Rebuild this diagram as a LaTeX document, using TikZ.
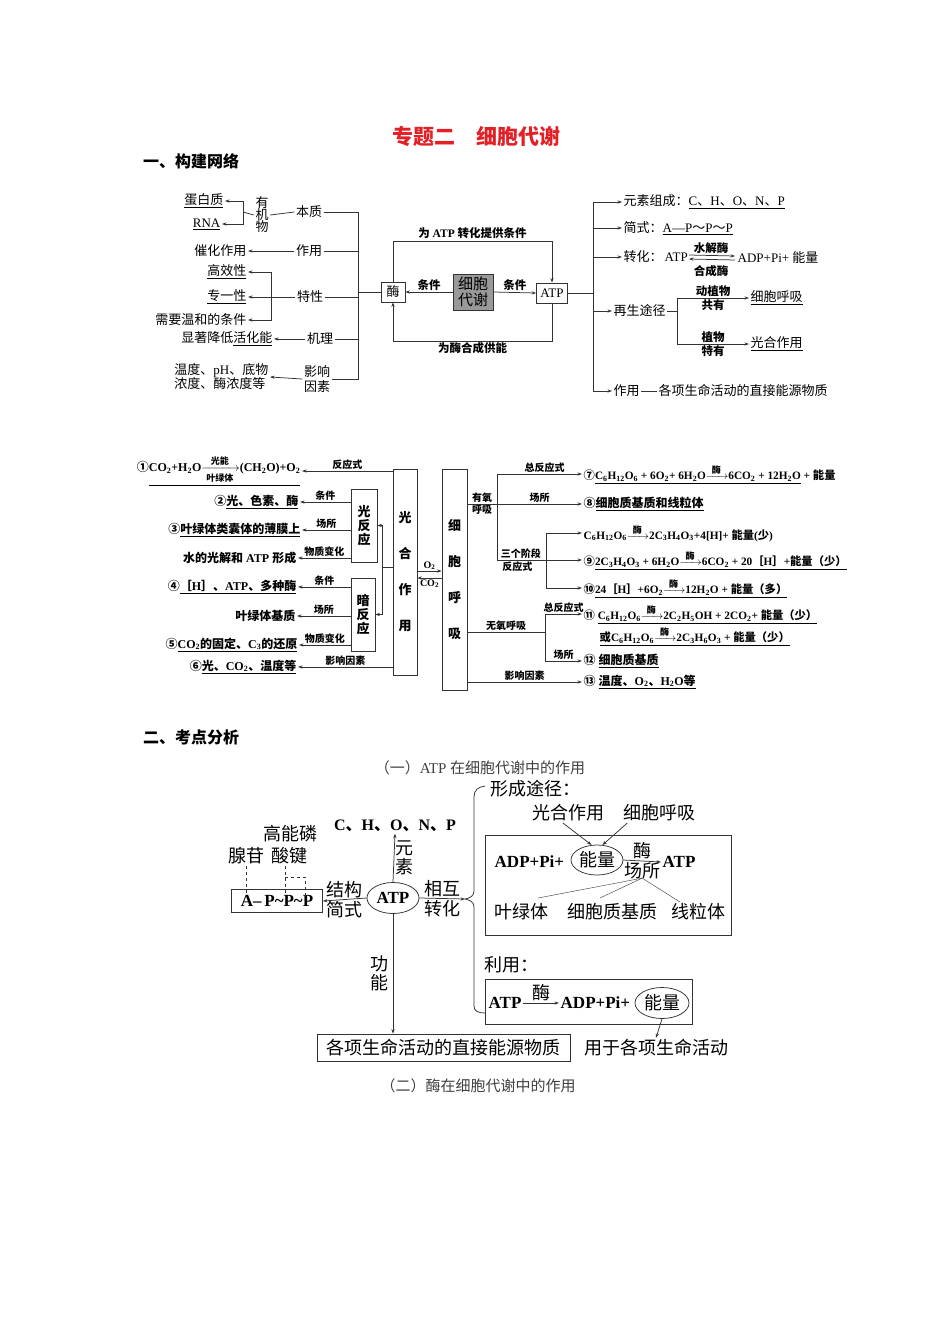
\documentclass[tikz,border=0pt]{standalone}
\usepackage{amsmath}
\usepackage{fontspec}
\setmainfont{Liberation Serif}
\newfontfamily\cjk{Noto Sans CJK SC}
\usetikzlibrary{arrows.meta,positioning,calc,shapes.geometric}
\definecolor{titlered}{RGB}{226,32,38}

% switch to the CJK font for Chinese characters
\XeTeXinterchartokenstate=1
\newXeTeXintercharclass\cjkcls
\makeatletter
\def\cjkrange#1#2{\count@=#1\relax
  \loop\XeTeXcharclass\count@=\cjkcls
  \ifnum\count@<#2\advance\count@\@ne\repeat}
\makeatother
\cjkrange{"4E00}{"9FFF}
\cjkrange{"3000}{"303F}
\cjkrange{"FF00}{"FFEF}
\cjkrange{"2460}{"24FF}
\XeTeXinterchartoks 0 \cjkcls = {\cjk}
\XeTeXinterchartoks 4095 \cjkcls = {\cjk}
\XeTeXinterchartoks \cjkcls 0 = {\rmfamily}
\XeTeXinterchartoks \cjkcls 4095 = {\rmfamily}

\newcommand\xs[1]{\textsubscript{#1}}
\newcommand\rlbl[1]{\text{\fontsize{9}{9}\selectfont #1}}
\newcommand\enz{$\xrightarrow{\hspace{0.3em}\rlbl{酶}\hspace{0.3em}}$}

\begin{document}
\begin{tikzpicture}[x=1pt, y=-1pt,
  ln/.style={draw=black!80, line width=0.75pt},
  arr/.style={ln, -{Stealth[length=4.5pt,width=3.2pt]}},
  txa/.style={inner sep=1.5pt, font=\fontsize{13}{14}\selectfont},
  lba/.style={inner sep=1.5pt, font=\bfseries\fontsize{11.5}{13}\selectfont},
  boxa/.style={draw=black!80, line width=0.75pt, inner sep=2pt, minimum height=20pt, font=\fontsize{13}{14}\selectfont},
  txb/.style={inner sep=1.5pt, font=\bfseries\fontsize{12}{14}\selectfont},
  txr/.style={inner sep=1.5pt, font=\bfseries\fontsize{11.3}{13}\selectfont},
  lbb/.style={inner sep=1pt, font=\bfseries\fontsize{10}{11}\selectfont},
  boxb/.style={draw=black!80, line width=0.75pt, inner sep=0pt, align=center, font=\bfseries\fontsize{13}{14}\selectfont},
  txc/.style={inner sep=1.5pt, font=\fontsize{18}{20}\selectfont},
  bfc/.style={inner sep=1.5pt, font=\bfseries\fontsize{17}{19}\selectfont},
  sechead/.style={anchor=west, inner sep=0pt, font=\bfseries\fontsize{16}{18}\selectfont},
  captxt/.style={inner sep=0pt, text=black!75, font=\fontsize{15}{17}\selectfont}]
\useasboundingbox (0,0) rectangle (950,1344);

% Title
\node[font=\bfseries\fontsize{21}{24}\selectfont, text=titlered] (ttl) at (476,137) {专题二　细胞代谢};
\node[sechead] (hda) at (143,161) {一、构建网络};

% ===== Network 1: enzyme / ATP =====
% left column
\node[txa, anchor=east] (dbz) at (225,201) {\underline{蛋白质}};
\node[txa, anchor=east] (rna) at (222,224) {\underline{RNA}};
\coordinate (bjo) at (243,212);
\node[txa, align=center, font=\fontsize{13}{12}\selectfont] (yjw) at (262,215) {有\\机\\物};
\node[txa] (bz) at (309,212) {本质};
\node[txa, anchor=east] (chzy) at (248,251) {催化作用};
\node[txa] (zy) at (309,251) {作用};
\node[txa, anchor=east] (gxx) at (248,272) {\underline{高效性}};
\node[txa, anchor=east] (zyx) at (248,297) {\underline{专一性}};
\node[txa, anchor=east] (xywh) at (248,320) {需要温和的条件};
\coordinate (btx) at (271,297);
\node[txa] (tx) at (310,297) {特性};
\node[txa, anchor=east] (xzjd) at (274,339) {显著降低\underline{活化能}};
\node[txa] (jl) at (320,339) {机理};
\node[txa, anchor=east, align=left] (wdph) at (270,377) {温度、pH、底物\\浓度、酶浓度等};
\node[txa, align=center, font=\fontsize{13}{15}\selectfont] (yxys) at (317,379) {影响\\因素};
\coordinate (tka) at (358,212);
\coordinate (tkb) at (358,379);
\coordinate (tkc) at (358,292);

\draw[arr] (bjo) |- (dbz.east);
\draw[arr] (bjo) |- (rna.east);
\draw[ln] (bjo) -- (yjw.west);
\draw[ln] (yjw.east) -- (bz.west);
\draw[arr] (zy.west) -- (chzy.east);
\draw[arr] (btx) |- (gxx.east);
\draw[arr] (btx) |- (xywh.east);
\draw[arr] (tx.west) -- (zyx.east);
\draw[arr] (jl.west) -- (xzjd.east);
\draw[arr] (yxys.west) -- (wdph.east);
\draw[ln] (bz.east) -- (tka) -- (tkb) -- (yxys.east);
\draw[ln] (zy.east) -- (zy.east -| tka);
\draw[ln] (tx.east) -- (tx.east -| tka);
\draw[ln] (jl.east) -- (jl.east -| tka);

% centre
\node[boxa, minimum width=24pt] (mei) at (393,292) {酶};
\node[draw=black!80, line width=0.75pt, fill=black!40, minimum width=40pt, minimum height=36pt, inner sep=0pt, align=center, font=\fontsize{15}{16}\selectfont] (xbdx) at (473,292) {细胞\\代谢};
\node[boxa, minimum width=31pt] (atp) at (552,293) {ATP};
\coordinate (lpt) at (473,241);
\coordinate (lpb) at (473,341);
\draw[ln] (tkc) -- (mei.west);
\draw[arr] (xbdx.west) -- node[lba, above] {条件} (mei.east);
\draw[arr] (xbdx.east) -- node[lba, above] {条件} (atp.west);
\draw[arr] (mei.north) -- (mei.north |- lpt) -- node[lba, above, pos=0.5] {为 ATP 转化提供条件} (atp.north |- lpt) -- (atp.north);
\draw[arr] (atp.south) -- (atp.south |- lpb) -- node[lba, below, pos=0.5] {为酶合成供能} (mei.south |- lpb) -- (mei.south);

% right column
\coordinate (tkd) at (593,293);
\coordinate (rta) at (593,202);
\coordinate (rtb) at (593,391);
\node[txa, anchor=west] (ysz) at (622,202) {元素组成：\underline{C、H、O、N、P}};
\node[txa, anchor=west] (js) at (622,228) {简式：\underline{A—P～P～P}};
\node[txa, anchor=west] (zh) at (622,257) {转化：};
\node[txa, anchor=west, inner sep=0pt] (zhatp) at (zh.east) {ATP};
\node[txa, anchor=west] (adp) at (736,258) {ADP+Pi+ 能量};
\node[lba] (sjm) at (711,248) {水解酶};
\node[lba] (hcm) at (711,271) {合成酶};
\node[txa, anchor=west] (zstj) at (612,311) {再生途径};
\coordinate (bzs) at (677,311);
\node[txa, anchor=west] (xbhx) at (749,298) {\underline{细胞呼吸}};
\node[txa, anchor=west] (ghzy) at (749,344) {\underline{光合作用}};
\node[txa, anchor=west] (zya) at (612,391) {作用};
\node[txa, anchor=west] (zjny) at (657,391) {各项生命活动的直接能源物质};

\draw[ln] (atp.east) -- (tkd);
\draw[ln] (rta) -- (rtb);
\draw[arr] (rta) -- (ysz.west);
\draw[arr] (rta |- js.west) -- (js.west);
\draw[arr] (rta |- zh.west) -- (zh.west);
\draw[arr] ([xshift=1pt, yshift=2pt]zhatp.east) -- ([xshift=-1pt, yshift=2pt]adp.west);
\draw[arr] ([xshift=-1pt, yshift=-2pt]adp.west) -- ([xshift=1pt, yshift=-2pt]zhatp.east);
\draw[arr] (rta |- zstj.west) -- (zstj.west);
\draw[ln] (zstj.east) -- (bzs);
\draw[arr] (bzs) |- node[lba, above, pos=0.75] {动植物} node[lba, below, pos=0.75] {共有} (xbhx.west);
\draw[arr] (bzs) |- node[lba, above, pos=0.75] {植物} node[lba, below, pos=0.75] {特有} (ghzy.west);
\draw[arr] (rtb) -- (zya.west);
\draw[ln] (zya.east) -- (zjny.west);

% ===== Network 2: photosynthesis / respiration =====
\node[boxb, minimum width=24pt, minimum height=206pt] (gh) at (405,572) {光\\[22pt]合\\[22pt]作\\[22pt]用};
\node[boxb, minimum width=25pt, minimum height=221pt] (hx) at (454.5,579.5) {细\\[22pt]胞\\[22pt]呼\\[22pt]吸};
\node[boxb, minimum width=26pt, minimum height=73pt] (gfy) at (364,525.5) {光\\反\\应};
\node[boxb, minimum width=24pt, minimum height=73pt] (afy) at (363,614.5) {暗\\反\\应};
\coordinate (jgh) at (382,567);
\draw[ln] (gh.west |- jgh) -- (jgh);
\draw[arr] (jgh) |- (gfy.east);
\draw[arr] (jgh) |- (afy.east);
\draw[arr] (gh.east |- 0,571) -- node[lbb, above] {O\xs2} (hx.west |- 0,571);
\draw[arr] (hx.west |- 0,578) -- node[lbb, below] {CO\xs2} (gh.east |- 0,578);

% left texts
\node[txb, anchor=east] (ta) at (302,471) {①\underline{CO\xs2+H\xs2O$\xrightarrow[\hspace{0.2em}\rlbl{叶绿体}\hspace{0.2em}]{\rlbl{光能}}$(CH\xs2O)+O\xs2}};
\node[txb, anchor=east] (tb) at (300,502) {②\underline{光、色素、酶}};
\node[txb, anchor=east] (tc) at (302,530) {③\underline{叶绿体类囊体的薄膜上}};
\node[txb, anchor=east] (td) at (298,558) {水的光解和 ATP 形成};
\node[txb, anchor=east] (te) at (298,587) {④\underline{［H］、ATP、多种酶}};
\node[txb, anchor=east] (tf) at (297,616) {叶绿体基质};
\node[txb, anchor=east] (tg) at (299,645) {⑤\underline{CO\xs2的固定、C\xs3的还原}};
\node[txb, anchor=east] (th) at (298,667) {⑥\underline{光、CO\xs2、温度等}};
\draw[arr] (gh.west |- ta.east) -- node[lbb, above] {反应式} (ta.east);
\draw[arr] (gfy.west |- tb.east) -- node[lbb, above] {条件} (tb.east);
\draw[arr] (gfy.west |- tc.east) -- node[lbb, above] {场所} (tc.east);
\draw[arr] (gfy.west |- td.east) -- node[lbb, above] {物质变化} (td.east);
\draw[arr] (afy.west |- te.east) -- node[lbb, above] {条件} (te.east);
\draw[arr] (afy.west |- tf.east) -- node[lbb, above] {场所} (tf.east);
\draw[arr] (afy.west |- tg.east) -- node[lbb, above] {物质变化} (tg.east);
\draw[arr] (gh.west |- th.east) -- node[lbb, above] {影响因素} (th.east);

% right texts
\node[txr, anchor=west] (ua) at (582,474) {⑦\underline{C\xs6H\xs{12}O\xs6 + 6O\xs2+ 6H\xs2O\enz6CO\xs2 + 12H\xs2O} + 能量};
\node[txb, anchor=west] (ub) at (582,504) {⑧\underline{细胞质基质和线粒体}};
\node[txr, anchor=west] (uc) at (582,533) {C\xs6H\xs{12}O\xs6\enz2C\xs3H\xs4O\xs3+4[H]+ 能量(少)};
\node[txr, anchor=west] (ud) at (582,560) {⑨\underline{2C\xs3H\xs4O\xs3 + 6H\xs2O\enz6CO\xs2 + 20［H］+能量（少）}};
\node[txr, anchor=west] (ue) at (582,588) {⑩\underline{24［H］+6O\xs2\enz12H\xs2O + 能量（多）}};
\node[txr, anchor=west] (uf) at (582,614) {⑪ \underline{C\xs6H\xs{12}O\xs6\enz2C\xs2H\xs5OH + 2CO\xs2+ 能量（少）}};
\node[txr, anchor=west] (ug) at (598,636) {\underline{或C\xs6H\xs{12}O\xs6\enz2C\xs3H\xs6O\xs3 + 能量（少）}};
\node[txb, anchor=west] (uh) at (582,661) {⑫ \underline{细胞质基质}};
\node[txb, anchor=west] (ui) at (582,682) {⑬ \underline{温度、O\xs2、H\xs2O等}};
\coordinate (yya) at (497,504);
\coordinate (yyb) at (546,560);
\coordinate (wya) at (545,632);
\draw[ln] (hx.east |- yya) -- node[lbb, above] {有氧} node[lbb, below] {呼吸} (yya);
\draw[arr] (yya) |- node[lbb, above, pos=0.78] {总反应式} (ua.west);
\draw[arr] (yya) -- node[lbb, above] {场所} (ub.west);
\draw[arr] (yya) |- node[lbb, above, pos=0.64] {三个阶段} node[lbb, below, pos=0.62] {反应式} (ud.west);
\draw[arr] (yyb) |- (uc.west);
\draw[arr] (yyb) |- (ue.west);
\draw[ln] (hx.east |- wya) -- node[lbb, above] {无氧呼吸} (wya);
\draw[arr] (wya) |- node[lbb, above, pos=0.75] {总反应式} (uf.west);
\draw[arr] (wya) |- node[lbb, above, pos=0.75] {场所} (uh.west);
\draw[arr] (hx.east |- ui.west) -- node[lbb, above] {影响因素} (ui.west);

% ===== Part 2 =====
\node[sechead] (hdb) at (143,737) {二、考点分析};
\node[captxt] (capa) at (480,768) {（一）ATP 在细胞代谢中的作用};
\node[captxt] (capb) at (478,1086) {（二）酶在细胞代谢中的作用};

% ATP structure
\node[draw=black!80, line width=0.75pt, ellipse, minimum width=52pt, minimum height=31pt, inner sep=0pt, font=\bfseries\fontsize{17}{19}\selectfont] (atpc) at (393,898) {ATP};
\node[bfc, font=\bfseries\fontsize{16}{19}\selectfont] (chonp) at (395,826) {C、H、O、N、P};
\node[draw=black!80, line width=0.75pt, minimum width=91pt, minimum height=23pt, inner sep=0pt, font=\bfseries\fontsize{17}{19}\selectfont] (apb) at (277,901) {A–\,P\textasciitilde P\textasciitilde P};
\node[txc] (xg) at (246,856) {腺苷};
\node[txc] (gnl) at (290,834) {高能磷};
\node[txc] (sj) at (289,856) {酸键};
\coordinate (aa) at (246,894);
\coordinate (ap) at (285,898);
\coordinate (aq) at (305,898);
\coordinate (ak) at (305,877);
\draw[ln, thin, dashed] (xg.south) -- (aa);
\draw[ln, thin, dashed] (sj.south -| ap) -- (ap);
\draw[ln, thin, dashed] (ap |- ak) -- (ak) -- (aq);
\draw[arr] (atpc.north) -- node[txc, right, align=center, font=\fontsize{18}{19}\selectfont] {元\\素} (chonp.south);
\draw[arr] (atpc.west) -- node[txc, above] {结构} node[txc, below] {简式} (apb.east);

% brace
\coordinate (bt) at (465,899);
\draw[arr] (atpc.east) -- node[txc, above] {相互} node[txc, below] {转化} (bt);
\draw[ln] (485,786) .. controls (478,787) and (474,790) .. (474,797) -- (474,891) .. controls (474,896) and (470,898) .. (465,899) .. controls (470,900) and (474,902) .. (474,907) -- (474,1006) .. controls (474,1011) and (478,1013) .. (485,1013);

% formation
\node[txc, anchor=west] (xctj) at (489,789) {形成途径：};
\node[txc] (ghzy3) at (568,813) {光合作用};
\node[txc] (xbhx3) at (659,813) {细胞呼吸};
\node[draw=black!80, line width=0.75pt, minimum width=246pt, minimum height=100pt] (boxf) at (608,885) {};
\node[bfc, anchor=west] (adp3) at (493,862) {ADP+Pi+};
\node[draw=black!80, line width=0.75pt, ellipse, minimum width=52pt, minimum height=30pt, inner sep=0pt, font=\fontsize{18}{20}\selectfont] (nl3) at (597,860) {能量};
\node[bfc, anchor=west] (atp3) at (661,862) {ATP};
\node[txc] (ylt3) at (521,912) {叶绿体};
\node[txc] (xbz3) at (612,912) {细胞质基质};
\node[txc] (xlt3) at (698,912) {线粒体};
\draw[arr] (nl3.east) -- node[txc, above] {酶} node[txc, below] (cs3) {场所} (atp3.west);
\draw[arr] ([xshift=-5pt]ghzy3.south) -- (nl3.110);
\draw[arr] ([xshift=6pt]xbhx3.south west) -- (nl3.70);
\draw[ln, thin] ([yshift=3pt]cs3.south) -- ([xshift=17pt, yshift=4pt]ylt3.north);
\draw[ln, thin] ([yshift=3pt]cs3.south) -- ([xshift=-12pt, yshift=4pt]xbz3.north);
\draw[ln, thin] ([yshift=3pt]cs3.south) -- ([xshift=-18pt]xlt3.north);

% use
\node[txc, anchor=west] (ly) at (483,965) {利用：};
\node[draw=black!80, line width=0.75pt, minimum width=207pt, minimum height=45pt] (boxu) at (588.5,1001.5) {};
\node[bfc, anchor=west] (atp4) at (487,1003) {ATP};
\node[bfc, anchor=west] (adp4) at (559,1003) {ADP+Pi+};
\node[draw=black!80, line width=0.75pt, ellipse, minimum width=54pt, minimum height=31pt, inner sep=0pt, font=\fontsize{18}{20}\selectfont] (nl4) at (662,1003) {能量};
\node[txc] (yg) at (656,1048) {用于各项生命活动};
\draw[arr] (atp4.east) -- node[txc, above] {酶} (adp4.west);
\draw[arr] (nl4.south) -- (yg.north);

% function
\node[draw=black!80, line width=0.75pt, minimum width=253pt, minimum height=27pt, inner sep=0pt, font=\fontsize{18}{20}\selectfont] (zjny3) at (443.5,1047.5) {各项生命活动的直接能源物质};
\draw[arr] (atpc.south) -- node[txc, left, inner sep=4pt, align=center, font=\fontsize{18}{19}\selectfont] {功\\能} (atpc.south |- zjny3.north);
\end{tikzpicture}
\end{document}
